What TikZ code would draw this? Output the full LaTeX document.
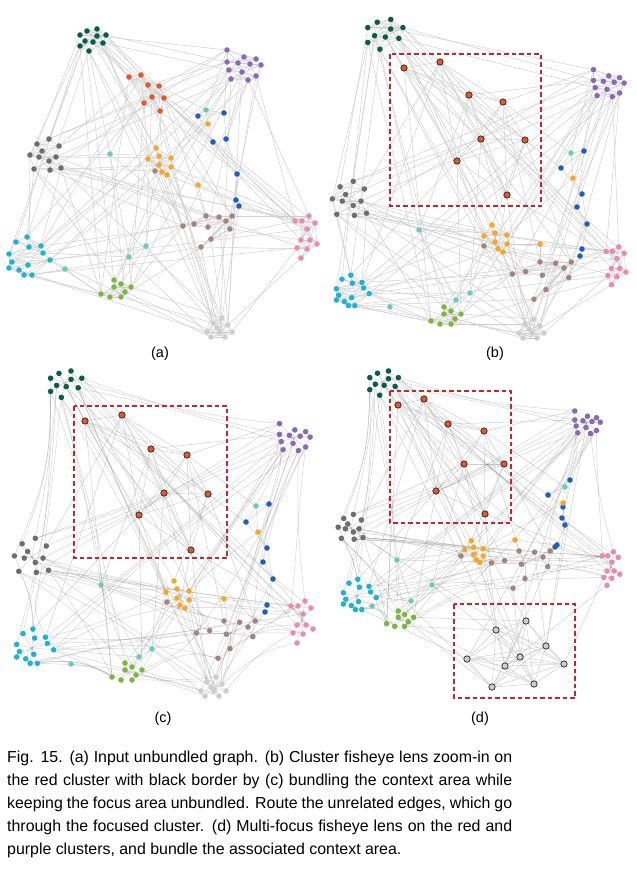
\documentclass[tikz,border=0pt]{standalone}
\usepackage{fontspec}
\setmainfont{Liberation Sans}
\usetikzlibrary{calc}
\pgfdeclarelayer{bg}
\pgfsetlayers{bg,main}
\definecolor{cdg}{HTML}{0B5E46}
\definecolor{cpu}{HTML}{8B69B3}
\definecolor{crd}{HTML}{E8552A}
\definecolor{cgy}{HTML}{6E6E6E}
\definecolor{cor}{HTML}{F5A62B}
\definecolor{cbr}{HTML}{A3857E}
\definecolor{cpk}{HTML}{E88BAE}
\definecolor{ccy}{HTML}{1DB3D1}
\definecolor{cgr}{HTML}{7DB544}
\definecolor{clg}{HTML}{CDCDCD}
\definecolor{cte}{HTML}{6FCAB9}
\definecolor{cbl}{HTML}{1E5EBE}
\definecolor{edgegray}{HTML}{CDCDCD}
\definecolor{lensred}{HTML}{C1272D}
\tikzset{
 dot/.style={circle,inner sep=0pt,minimum size=5.6pt,draw=none},
 fdot/.style={circle,inner sep=0pt,minimum size=6.4pt,draw=black!85,line width=0.7pt},
 edge/.style={draw=edgegray,line width=0.45pt},
 bedge/.style={draw=black!60,line width=0.5pt,opacity=0.27},
 lens/.style={draw=lensred,line width=2.3pt,dash pattern=on 4.5pt off 3pt},
 lbl/.style={font=\fontsize{14.5}{17}\selectfont,anchor=base,inner sep=0pt},
 captxt/.style={font=\fontsize{15.9}{20}\selectfont,anchor=base west,inner sep=0pt},
}
% cluster shapes (offsets from centre)
\def\offdg{-12/-4,-5/-8,5/-10,5/-3,14/-4,-7/2,1/3,11/4,-12/7,-3/12}
\def\offpu{-15/-16,2/-9,14/-7,-15/-4,-4/-3,8/-2,19/-1,-13/4,0/6,14/10,-11/13,6/14}
\def\offgy{3/-17,-9/-12,13/-10,-4/-5,-16/-1,-7/1,10/1,3/5,-12/13,4/14,15/12}
\def\offor{-6/-14,-3/-6,9/-4,-14/-3,-3/3,9/5,0/10,5/13}
\def\offbr{-28/0,-17/-2,-5/-10,-3/1,8/-9,15/-5,21/-10,19/3,0/13,-10/21}
\def\offpk{-11/-14,-4/-14,3/-19,9/-12,1/-6,-5/5,4/5,11/9,-9/13,1/14,-5/23}
\def\offcy{1/-21,-10/-16,3/-11,15/-12,17/-5,-17/-4,-14/4,2/7,24/2,-17/10,-7/12,-2/17,6/17}
\def\offgr{-3/-10,4/-6,14/-3,-3/-3,8/2,-16/4,-7/7,4/7}
\def\offlg{3/-11,-6/-6,9/-4,-2/-1,-12/3,1/3,13/3,-8/8,6/8}
\def\rdA{129/77,141/75,148/85,159/86,152/97,164/98,144/103,160/111}
\def\rdB{404/68,440/62,469/95,503/102,481/139,525/140,457/161,507/195}
\def\rdC{85/421,122/415,151/449,187/455,164/493,208/494,139/515,191/550}
\def\rdD{398/405,424/399,448/424,484/431,464/464,504/464,436/491,485/514}
\def\lgD{526/621,496/630,546/646,520/657,467/659,505/666,564/664,492/687,534/684}
% edges
\def\EdgesRed{rd/1/dg/2,rd/2/dg/5,rd/1/dg/7,rd/3/pu/4,rd/4/pu/1,rd/2/gy/3,rd/5/gy/1,rd/6/or/1,rd/7/or/4,rd/8/lg/2,rd/5/lg/6,rd/4/br/3,rd/6/br/7,rd/3/pk/2,rd/8/pk/5,rd/7/gr/3,rd/1/gr/6,rd/2/cy/4,rd/7/cy/1,rd/4/t1/1,rd/6/b1/1,rd/3/t2/1,rd/8/or/7,rd/5/t3/1}
\def\EdgesLg{lg/1/dg/3,lg/4/dg/8,lg/2/dg/10,lg/3/pu/9,lg/6/pu/11,lg/5/pu/7,lg/7/gy/11,lg/8/gy/9,lg/2/or/8,lg/9/or/6,lg/1/br/9,lg/4/br/10,lg/3/br/5,lg/7/pk/9,lg/6/pk/11,lg/5/cy/13,lg/8/cy/9,lg/1/gr/3,lg/9/gr/5,lg/2/gr/8,lg/3/b5/1,lg/6/b7/1,lg/4/t3/1}
\def\EdgesRest{dg/4/pu/1,dg/5/pu/4,dg/8/pu/8,dg/1/gy/2,dg/9/gy/5,dg/6/gy/1,dg/9/cy/2,dg/6/cy/6,dg/10/cy/1,dg/8/pk/1,dg/7/pk/4,dg/3/pk/6,dg/5/pk/8,dg/7/or/1,dg/10/or/4,dg/10/t2/1,dg/6/gr/1,dg/9/gr/6,dg/8/br/7,dg/4/br/2,pu/4/gy/1,pu/8/gy/3,pu/11/gy/7,pu/1/gy/10,pu/8/cy/4,pu/11/cy/5,pu/10/cy/9,pu/12/br/1,pu/10/br/8,pu/9/br/4,pu/10/pk/1,pu/12/pk/3,pu/11/gr/1,pu/9/gr/3,pu/8/or/3,pu/11/or/6,pu/4/b2/1,pu/1/t1/1,pu/12/b4/1,gy/7/or/3,gy/10/or/5,gy/10/br/1,gy/11/br/3,gy/7/br/6,gy/11/pk/1,gy/10/pk/4,gy/8/pk/10,gy/9/cy/1,gy/5/cy/3,gy/11/cy/4,gy/9/gr/1,gy/11/gr/6,gy/7/t2/1,or/5/br/1,or/8/br/2,or/4/gr/2,or/7/gr/4,or/4/cy/4,or/7/cy/9,or/6/pk/2,or/8/pk/5,or/3/o1/1,or/6/o2/1,or/2/t2/1,br/9/pk/1,br/7/pk/3,br/8/pk/6,br/10/pk/10,br/1/cy/4,br/10/cy/13,br/5/cy/5,br/1/gr/3,br/10/gr/8,br/1/t3/1,pk/5/cy/9,pk/9/cy/12,pk/1/b7/1,pk/2/b6/1,cy/9/gr/6,cy/13/gr/7,cy/12/gr/6,cy/13/t5/1,cy/5/t4/1,cy/9/t3/1,gr/3/t4/1,gr/6/t5/1,gr/2/t3/1,t3/1/t4/1,b1/1/b2/1,b1/1/b3/1,b2/1/b4/1,b3/1/b5/1,b4/1/b5/1,b5/1/b6/1,b6/1/b7/1,b7/1/br/8,t1/1/b1/1,t1/1/b2/1,t1/1/o1/1,o1/1/b3/1,o2/1/br/3,o2/1/b6/1,bl/1/or/7,bl/1/br/1,bl/1/t3/1,bl/1/gy/11,t2/1/gr/5,t2/1/br/2,t2/1/t4/1}
% helpers
\newcommand\mkcl[6]{%
  \coordinate (#1-cc-#2) at (#3,#4);
  \expandafter\let\expandafter\curlist\csname off#2\endcsname
  \foreach[count=\k] \dx/\dy in \curlist {\node[dot,fill=#6] (#1-#2-\k) at ({#3+#5*\dx},{#4+#5*\dy}) {};}
}
\newcommand\mkex[5]{%
  \foreach[count=\k] \px/\py in #3 {\node[#5,fill=#4] (#1-#2-\k) at (\px,\py) {};}
}
\newcommand\singles[2]{%
  \foreach \sid/\sx/\sy/\sc in {#2} {\node[dot,fill=\sc] (#1-\sid-1) at (\sx,\sy) {}; \coordinate (#1-cc-\sid) at (\sx,\sy);}
}
\newcommand\intranear[3]{%
  \foreach \ii in {1,...,#3}{\foreach \jj in {1,...,#3}{\ifnum\ii<\jj \ifnum\numexpr\jj-\ii\relax<5 \draw[edge] (#1-#2-\ii)--(#1-#2-\jj);\fi\fi}}}
\newcommand\intrafull[4]{%
  \foreach \ii in {1,...,#3}{\foreach \jj in {1,...,#3}{\ifnum\ii<\jj \draw[#4] (#1-#2-\ii)--(#1-#2-\jj);\fi}}}
\newcommand\intrastar[3]{\foreach \ii in {1,...,#3}{\draw[bedge] (#1-cc-#2)--(#1-#2-\ii);}}
\newcommand\straight[3]{\foreach \ca/\ni/\cb/\nj in #2 {\draw[#3] (#1-\ca-\ni)--(#1-\cb-\nj);}}
\newcommand\bundled[2]{\foreach \ca/\ni/\cb/\nj in #2 {\draw[bedge] (#1-\ca-\ni) .. controls ($(#1-cc-\ca)!0.44!(#1-cc-\cb)$) and ($(#1-cc-\cb)!0.44!(#1-cc-\ca)$) .. (#1-\cb-\nj);}}
\begin{document}
\begin{tikzpicture}[x=1pt,y=-1pt]
\useasboundingbox (0,0) rectangle (637,876);
% ---------------- panel A
\mkcl{A}{dg}{92}{39}{1}{cdg}
\mkcl{A}{pu}{242}{66}{1}{cpu}
\mkex{A}{rd}{\rdA}{crd}{dot}
\mkcl{A}{gy}{46}{156}{1}{cgy}
\mkcl{A}{or}{162}{162}{1}{cor}
\mkcl{A}{br}{211}{226}{1}{cbr}
\mkcl{A}{pk}{306}{235}{1}{cpk}
\mkcl{A}{cy}{26}{258}{1}{ccy}
\mkcl{A}{gr}{117}{290}{1}{cgr}
\mkcl{A}{lg}{219}{329}{1}{clg}
\singles{A}{t1/206/110/cte,t2/110/154/cte,t3/146/246/cte,t4/129/257/cte,t5/65/269/cte,b1/198/116/cbl,b2/224/113/cbl,b3/213/142/cbl,b4/226/139/cbl,b5/237/174/cbl,b6/236/200/cbl,b7/239/206/cbl,o1/208/124/cor,o2/198/185/cor,bl/155/171/cbr}
% ---------------- panel B
\mkcl{B}{dg}{384}{33}{1.35}{cdg}
\mkcl{B}{pu}{607}{84}{0.9}{cpu}
\mkex{B}{rd}{\rdB}{crd}{fdot}
\mkcl{B}{gy}{350}{200}{1.1}{cgy}
\mkcl{B}{or}{498}{239}{1}{cor}
\mkcl{B}{br}{546}{274}{1.2}{cbr}
\mkcl{B}{pk}{616}{264}{0.9}{cpk}
\mkcl{B}{cy}{350}{292}{0.8}{ccy}
\mkcl{B}{gr}{447}{317}{1}{cgr}
\mkcl{B}{lg}{531}{330}{1}{clg}
\singles{B}{t1/571/153/cte,t2/419/230/cte,t3/470/293/cte,t4/456/300/cte,t5/390/307/cte,b1/561/168/cbl,b2/584/151/cbl,b3/582/194/cbl,b4/577/207/cbl,b5/587/224/cbl,b6/582/249/cbl,b7/580/256/cbl,o1/573/178/cor,o2/540/244/cor,bl/484/246/cbr}
% ---------------- panel C
\mkcl{C}{dg}{65}{383}{1.2}{cdg}
\mkcl{C}{pu}{293}{438}{0.9}{cpu}
\mkex{C}{rd}{\rdC}{crd}{fdot}
\mkcl{C}{gy}{32}{557}{1.1}{cgy}
\mkcl{C}{or}{180}{595}{1}{cor}
\mkcl{C}{br}{230}{633}{1.2}{cbr}
\mkcl{C}{pk}{302}{620}{1}{cpk}
\mkcl{C}{cy}{32}{648}{0.9}{ccy}
\mkcl{C}{gr}{128}{673}{1}{cgr}
\mkcl{C}{lg}{213}{688}{1}{clg}
\singles{C}{t1/256/506/cte,t2/101/585/cte,t3/152/649/cte,t4/139/657/cte,t5/71/664/cte,b1/246/522/cbl,b2/269/504/cbl,b3/267/548/cbl,b4/263/562/cbl,b5/273/579/cbl,b6/267/605/cbl,b7/265/612/cbl,o1/258/532/cor,o2/224/599/cor,bl/167/602/cbr}
% ---------------- panel D
\mkcl{D}{dg}{383}{382}{1.1}{cdg}
\mkcl{D}{pu}{586}{423}{0.75}{cpu}
\mkex{D}{rd}{\rdD}{crd}{fdot}
\mkcl{D}{gy}{351}{528}{0.8}{cgy}
\mkcl{D}{or}{476}{552}{0.8}{cor}
\mkcl{D}{br}{525}{563}{1.2}{cbr}
\mkcl{D}{pk}{611}{567}{0.8}{cpk}
\mkcl{D}{cy}{357}{596}{0.8}{ccy}
\mkcl{D}{gr}{401}{620}{0.9}{cgr}
\mkex{D}{lg}{\lgD}{clg}{fdot}
\singles{D}{t1/565/487/cte,t2/397/560/cte,t3/432/585/cte,t4/411/601/cte,t5/372/606/cte,b1/548/495/cbl,b2/570/480/cbl,b3/563/507/cbl,b4/562/518/cbl,b5/565/525/cbl,b6/557/545/cbl,b7/555/547/cbl,o1/563/503/cor,o2/515/540/cor,bl/461/556/cbr}
% ---------------- edges
\begin{pgfonlayer}{bg}
\foreach \P in {A,B}{%
  \foreach \cl/\n in {dg/10,pu/12,gy/11,or/8,br/10,pk/11,cy/13,gr/8,lg/9}{\intranear{\P}{\cl}{\n}}
  \intrafull{\P}{rd}{8}{edge}
  \straight{\P}{\EdgesRed}{edge}
  \straight{\P}{\EdgesLg}{edge}
  \straight{\P}{\EdgesRest}{edge}
}
\foreach \cl/\n in {dg/10,pu/12,gy/11,or/8,br/10,pk/11,cy/13,gr/8,lg/9}{\intrastar{C}{\cl}{\n}}
\intrafull{C}{rd}{8}{edge}
\straight{C}{\EdgesRed}{edge}
\bundled{C}{\EdgesLg}
\bundled{C}{\EdgesRest}
\foreach \cl/\n in {dg/10,pu/12,gy/11,or/8,br/10,pk/11,cy/13,gr/8}{\intrastar{D}{\cl}{\n}}
\intrafull{D}{rd}{8}{edge}
\intrafull{D}{lg}{9}{edge}
\straight{D}{\EdgesRed}{edge}
\straight{D}{\EdgesLg}{edge}
\bundled{D}{\EdgesRest}
\end{pgfonlayer}
% ---------------- lenses
\draw[lens] (390,54) rectangle (541,206);
\draw[lens] (74,406) rectangle (227,558);
\draw[lens] (390,391) rectangle (511,523);
\draw[lens] (454,604) rectangle (575,698);
% ---------------- labels
\node[lbl] (la) at (160,357) {(a)};
\node[lbl] (lb) at (495,357) {(b)};
\node[lbl] (lc) at (163,722) {(c)};
\node[lbl] (ld) at (480,722) {(d)};
% ---------------- caption
\node[captxt] (c1) at (7,762) {\makebox[505pt][s]{Fig. 15. (a) Input unbundled graph. (b) Cluster fisheye lens zoom-in on}};
\node[captxt] (c2) at (7,785) {\makebox[505pt][s]{the red cluster with black border by (c) bundling the context area while}};
\node[captxt] (c3) at (7,808) {\makebox[505pt][s]{keeping the focus area unbundled. Route the unrelated edges, which go}};
\node[captxt] (c4) at (7,831) {\makebox[505pt][s]{through the focused cluster. (d) Multi-focus fisheye lens on the red and}};
\node[captxt] (c5) at (7,854) {purple clusters, and bundle the associated context area.};
\end{tikzpicture}
\end{document}
